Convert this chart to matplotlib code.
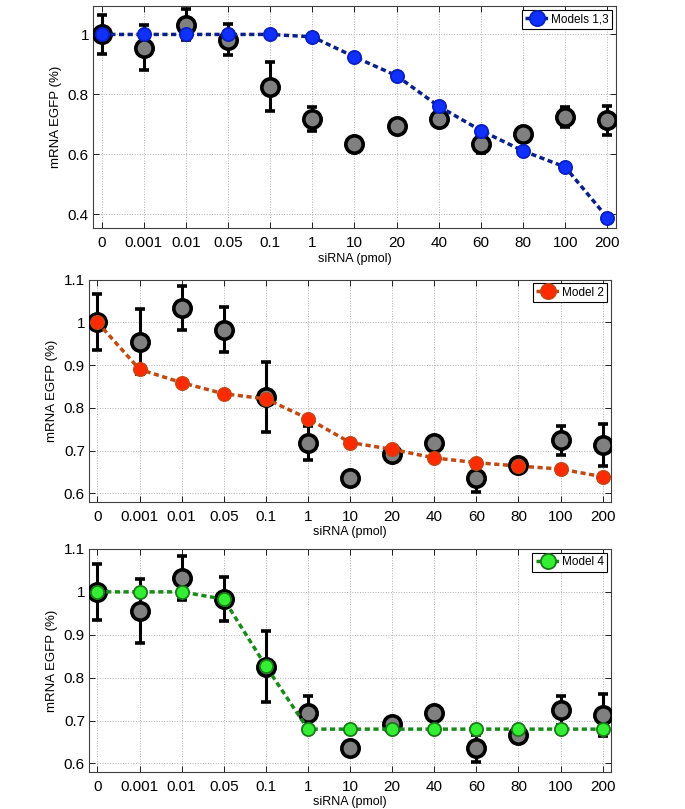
import numpy as np
import matplotlib
matplotlib.use("Agg")
import matplotlib.pyplot as plt

plt.rcParams['font.family'] = ['Liberation Sans', 'DejaVu Sans']

# siRNA doses (categorical x axis)
doses = ["0", "0.001", "0.01", "0.05", "0.1", "1", "10", "20", "40", "60", "80", "100", "200"]

# experimental data (mean, error)
exp_mean = [1.0, 0.955, 1.033, 0.983, 0.826, 0.718, 0.635, 0.693, 0.718, 0.635, 0.667, 0.724, 0.713]
exp_err = [0.065, 0.075, 0.051, 0.052, 0.082, 0.040, 0.0, 0.0, 0.0, 0.032, 0.0, 0.034, 0.049]

# model predictions
model_13 = [1.0, 1.0, 1.0, 1.0, 1.0, 0.992, 0.925, 0.862, 0.760, 0.679, 0.611, 0.557, 0.388]
model_2 = [1.0, 0.890, 0.859, 0.833, 0.821, 0.775, 0.719, 0.703, 0.683, 0.672, 0.664, 0.657, 0.639]
model_4 = [1.0, 1.0, 1.0, 0.983, 0.827, 0.68, 0.68, 0.68, 0.68, 0.68, 0.68, 0.68, 0.68]

x = np.arange(len(doses))

fig = plt.figure(figsize=(6.85, 8.09), dpi=100)

# panel positions [left, bottom, width, height]
positions = [
    [0.136, 0.7176, 0.763, 0.275],
    [0.130, 0.3795, 0.762, 0.275],
    [0.130, 0.0457, 0.762, 0.2757],
]

panels = [
    (model_13, "Models 1,3", "#0a1f8a", "#1030ff", "#0a20c0", (0.352, 1.095), [0.4, 0.6, 0.8, 1.0]),
    (model_2, "Model 2", "#c04a12", "#ff2a00", "#d04010", (0.58, 1.1), [0.6, 0.7, 0.8, 0.9, 1.0, 1.1]),
    (model_4, "Model 4", "#1a8a1a", "#33ee33", "#1a7a1a", (0.58, 1.1), [0.6, 0.7, 0.8, 0.9, 1.0, 1.1]),
]

for pos, (model, label, line_c, face_c, edge_c, ylim, yticks) in zip(positions, panels):
    ax = fig.add_axes(pos)

    # experimental points
    ax.errorbar(x, exp_mean, yerr=exp_err, fmt='o', color='black', ecolor='black',
                elinewidth=2.2, capsize=3.5, capthick=2.2, markersize=12.5,
                markerfacecolor='#808080', markeredgecolor='black', markeredgewidth=2.6,
                zorder=3)

    # model curve
    ax.plot(x, model, linestyle=(0, (1.5, 1.0)), color=line_c, linewidth=2.5,
            marker='o', markersize=9.5, markerfacecolor=face_c, markeredgecolor=edge_c,
            markeredgewidth=1.3, label=label, zorder=4)

    ax.set_xlim(-0.2, 12.2)
    ax.set_ylim(*ylim)
    ax.set_xticks(x)
    ax.set_xticklabels(doses)
    ax.set_yticks(yticks)
    ax.set_yticklabels(["1" if t == 1.0 else f"{t:g}" for t in yticks])
    ax.tick_params(direction='in', top=True, right=True, labelsize=11, length=4, width=0.6)
    ax.tick_params(axis='x', pad=5.5)
    ax.tick_params(axis='y', pad=3)
    ax.grid(True, linestyle=':', color='#b0b0b0', linewidth=0.7)
    ax.set_axisbelow(True)
    for sp in ax.spines.values():
        sp.set_linewidth(0.8)
        sp.set_color('#404040')

    ax.set_xlabel("siRNA (pmol)", fontsize=9, labelpad=2)
    ax.set_ylabel("mRNA EGFP (%)", fontsize=9.5, labelpad=4)

    leg = ax.legend(loc='upper right', fontsize=8.5, handlelength=2.0, handletextpad=0.2,
                    borderpad=0.3, fancybox=False, framealpha=1, borderaxespad=0.3,
                    markerscale=1.15)
    leg.get_frame().set_edgecolor('black')
    leg.get_frame().set_linewidth(0.8)

fig.savefig("out.png", dpi=100)
